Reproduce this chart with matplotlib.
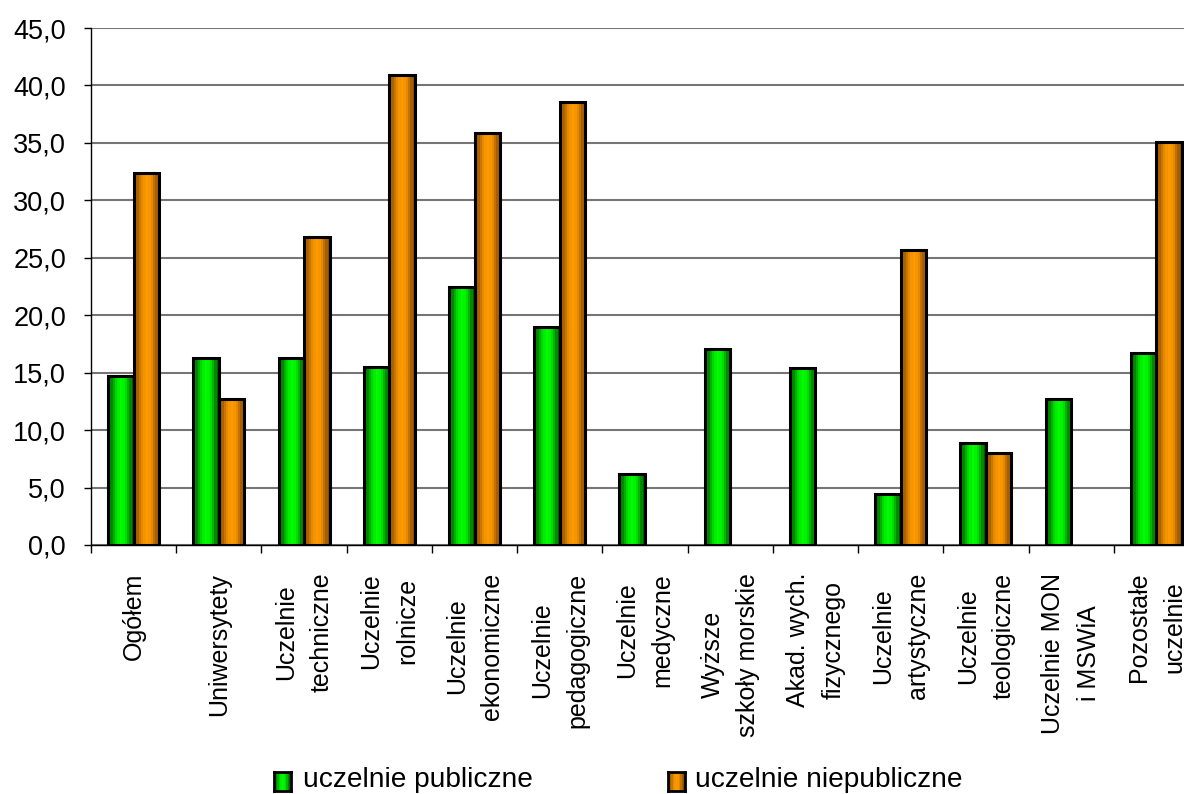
import matplotlib
matplotlib.use("Agg")
import matplotlib.pyplot as plt
import numpy as np
from matplotlib.colors import LinearSegmentedColormap
from matplotlib.ticker import FuncFormatter

plt.rcParams['font.family'] = ['Liberation Sans', 'DejaVu Sans']

categories = [
    "Ogółem",
    "Uniwersytety",
    "Uczelnie\ntechniczne",
    "Uczelnie\nrolnicze",
    "Uczelnie\nekonomiczne",
    "Uczelnie\npedagogiczne",
    "Uczelnie\nmedyczne",
    "Wyższe\nszkoły morskie",
    "Akad. wych.\nfizycznego",
    "Uczelnie\nartystyczne",
    "Uczelnie\nteologiczne",
    "Uczelnie MON\ni MSWiA",
    "Pozostałe\nuczelnie",
]
publiczne = [14.7, 16.3, 16.3, 15.5, 22.5, 19.0, 6.2, 17.1, 15.4, 4.4, 8.9, 12.7, 16.7]
niepubliczne = [32.4, 12.7, 26.8, 40.9, 35.9, 38.6, np.nan, np.nan, np.nan, 25.7, 8.0, np.nan, 35.1]
series_names = ["uczelnie publiczne", "uczelnie niepubliczne"]

# vertical shading across each bar: dark edges, bright middle
green_cmap = LinearSegmentedColormap.from_list(
    "green_bar", ["#005c00", "#00a400", "#00e400", "#00ff00", "#00ec00", "#00a800", "#006000"])
orange_cmap = LinearSegmentedColormap.from_list(
    "orange_bar", ["#8a5000", "#c07000", "#ee9000", "#ff9b00", "#f29200", "#b86a00", "#885000"])
stripes = np.linspace(0, 1, 11).reshape(1, -1)


def shade_bars(ax, bars, cmap):
    for b in bars:
        h = b.get_height()
        if not np.isfinite(h) or h <= 0:
            continue
        x0 = b.get_x()
        im = ax.imshow(stripes, cmap=cmap, extent=(x0, x0 + b.get_width(), 0, h),
                       aspect="auto", interpolation="nearest", zorder=2.5)
        im.set_clip_path(b)
        b.set_facecolor("none")
        b.set_zorder(3)


fig = plt.figure(figsize=(11.84, 7.94), dpi=100)
ax = fig.add_axes([91 / 1184, 249 / 794, 1108 / 1184, 517 / 794])

x = np.arange(len(categories))
w = 0.3
bars_pub = ax.bar(x - w / 2, publiczne, w, edgecolor="black", linewidth=2.2, zorder=3)
bars_npub = ax.bar(x + w / 2, niepubliczne, w, edgecolor="black", linewidth=2.2, zorder=3)
shade_bars(ax, bars_pub, green_cmap)
shade_bars(ax, bars_npub, orange_cmap)

ax.set_xlim(-0.5, len(categories) - 0.5)
ax.set_ylim(0, 45)
ax.set_yticks(np.arange(0, 46, 5))
ax.yaxis.set_major_formatter(FuncFormatter(lambda v, p: f"{v:.1f}".replace(".", ",")))
ax.tick_params(axis="y", direction="out", length=5, width=1, labelsize=19.5, pad=13)

ax.set_xticks(np.arange(-0.5, len(categories), 1))
ax.set_xticklabels([])
ax.tick_params(axis="x", which="major", direction="out", length=6, width=1)
ax.set_xticks(x, minor=True)
ax.set_xticklabels(categories, minor=True, rotation=90, ha="center", va="top",
                   multialignment="center", linespacing=1.6, fontsize=18)
ax.tick_params(axis="x", which="minor", length=0, pad=20)

ax.grid(axis="y", color="#767676", linewidth=1.5, zorder=0)
ax.set_axisbelow(True)
for s in ["top", "right"]:
    ax.spines[s].set_visible(False)
ax.spines["left"].set_linewidth(1.0)
ax.spines["bottom"].set_linewidth(1.0)

# legend below the category labels
for name, cmap, mx, tx in [(series_names[0], green_cmap, 274, 303),
                           (series_names[1], orange_cmap, 668, 695)]:
    key = fig.add_axes([mx / 1184, 3 / 794, 17 / 1184, 19 / 794])
    key.imshow(stripes, cmap=cmap, aspect="auto", interpolation="nearest")
    key.set_xticks([])
    key.set_yticks([])
    for s in key.spines.values():
        s.set_linewidth(2.0)
    fig.text(tx / 1184, 14 / 794, name, fontsize=20.2, va="center", ha="left")

fig.savefig("out.png", dpi=100)
